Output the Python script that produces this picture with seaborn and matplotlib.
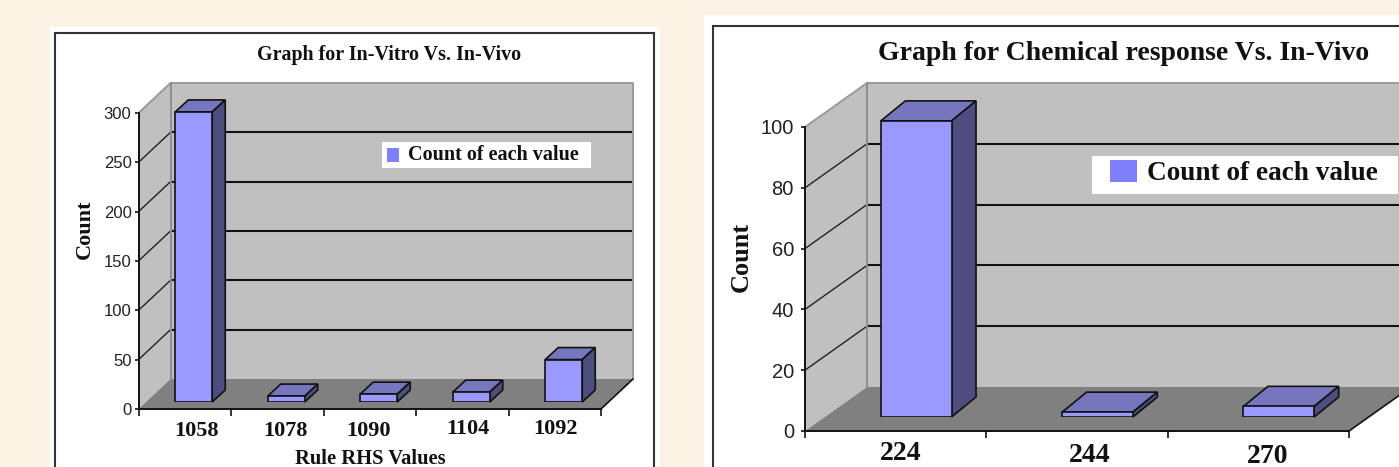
import matplotlib
matplotlib.use("Agg")
import matplotlib.pyplot as plt
from matplotlib.patches import Polygon, Rectangle
import pandas as pd
import seaborn as sns

# Rule counts per chart
vitro_values = ["1058", "1078", "1090", "1104", "1092"]
vitro_counts = [294, 6, 8, 10, 43]
chem_values = ["224", "244", "270"]
chem_counts = [97.4, 1.6, 3.5]
series_name = "Count of each value"

W, H = 1399, 467
PAGE = "#FDF3E4"
WALL = "#C0C0C0"
FLOOR = "#808080"
BAR_FRONT = "#9999FF"
BAR_TOP = "#7676BE"
BAR_SIDE = "#4D4D80"
SWATCH = "#8080FF"
INK = "#111111"
SERIF = "Liberation Serif"
SANS = "Liberation Sans"

sns.set_theme(style="white")
fig = plt.figure(figsize=(W / 100, H / 100), dpi=100, facecolor=PAGE)

# Full-figure pixel canvas for cards, frames, titles and legends
page = fig.add_axes([0, 0, 1, 1], zorder=0)
page.set_xlim(0, W)
page.set_ylim(H, 0)
page.axis("off")
top = fig.add_axes([0, 0, 1, 1], zorder=5)
top.set_xlim(0, W)
top.set_ylim(H, 0)
top.axis("off")


def plane_axes(left, right, y_top, y_zero, zorder):
    return fig.add_axes([left / W, 1 - y_zero / H, (right - left) / W, (y_zero - y_top) / H],
                        zorder=zorder, facecolor="none")


def draw_chart(cfg):
    page.add_patch(Rectangle(cfg["card"][:2], cfg["card"][2], cfg["card"][3], fc="white", ec="none"))
    page.add_patch(Rectangle(cfg["frame"][:2], cfg["frame"][2], cfg["frame"][3], fc="white",
                             ec="#333333", lw=1.5))

    names, counts, ymax, step = cfg["names"], cfg["counts"], cfg["ymax"], cfg["step"]
    n = len(names)
    left, right, y_top, y_zero = cfg["plane"]
    px_x = (right - left) / n
    px_y = (y_zero - y_top) / ymax

    # Front plane: axis, ticks and the 3-D box walls
    ax = plane_axes(left, right, y_top, y_zero, 1)
    ax.set_xlim(-0.5, n - 0.5)
    ax.set_ylim(0, ymax)
    dx = cfg["depth"][0] / px_x
    dy = cfg["depth"][1] / px_y
    x0, x1 = -0.5, n - 0.5
    ax.add_patch(Polygon([(x0, 0), (x0 + dx, dy), (x0 + dx, ymax + dy), (x0, ymax)],
                         fc=WALL, ec="none", clip_on=False, zorder=1))
    ax.add_patch(Polygon([(x0 + dx, dy), (x1 + dx, dy), (x1 + dx, ymax + dy), (x0 + dx, ymax + dy)],
                         fc=WALL, ec="none", clip_on=False, zorder=1))
    ax.add_patch(Polygon([(x0, 0), (x1, 0), (x1 + dx, dy), (x0 + dx, dy)],
                         fc=FLOOR, ec="none", clip_on=False, zorder=2))
    ticks = list(range(0, ymax + 1, step))
    for t in ticks[1:-1]:
        ax.plot([x0, x0 + dx], [t, t + dy], color="#222222", lw=1.0, clip_on=False, zorder=3)
        ax.plot([x0 + dx, x1 + dx], [t + dy, t + dy], color="#111111", lw=1.5, clip_on=False, zorder=3)
    ax.plot([x0, x0 + dx, x1 + dx, x1 + dx], [ymax, ymax + dy, ymax + dy, dy], color="#9A9A9A",
            lw=1.4, clip_on=False, zorder=3)
    ax.plot([x0 + dx, x0 + dx], [dy, ymax + dy], color="#8E8E8E", lw=1.4, clip_on=False, zorder=3)
    ax.plot([x1, x1 + dx], [0, dy], color="#111111", lw=1.2, clip_on=False, zorder=3)

    sns.despine(ax=ax, top=True, right=True)
    for s in ("left", "bottom"):
        ax.spines[s].set_color("#111111")
        ax.spines[s].set_linewidth(1.4)
        ax.spines[s].set_zorder(4)
    ax.set_yticks(ticks)
    ax.set_yticklabels([str(t) for t in ticks], family=SANS, fontsize=cfg["tick_size"], color="#222222")
    ax.set_xticks([i - 0.5 for i in range(n + 1)])
    ax.set_xticklabels([])
    ax.tick_params(axis="y", length=3, width=1.2, color="#111111", left=True, pad=cfg["tick_pad"])
    ax.tick_params(axis="x", length=5, width=1.2, color="#111111", bottom=True)
    ax.set_ylabel("Count", family=SERIF, weight="bold", fontsize=cfg["label_size"], color=INK)
    ax.yaxis.set_label_coords(cfg["ylabel_xy"][0], cfg["ylabel_xy"][1], transform=page.transData)
    ax.set_xlabel(cfg.get("xlabel", ""), family=SERIF, weight="bold", fontsize=cfg["xlabel_size"], color=INK)
    ax.xaxis.set_label_coords(cfg["xlabel_xy"][0], cfg["xlabel_xy"][1], transform=page.transData)
    for i, (name, (ox, oy)) in enumerate(zip(names, cfg["label_offsets"])):
        ax.annotate(name, xy=(i, 0), xytext=(ox * 0.72, -oy * 0.72), textcoords="offset points",
                    ha="center", va="center", family=SERIF, weight="bold",
                    fontsize=cfg["cat_size"], color=INK, annotation_clip=False)

    # Bars sit on a plane pushed back into the box
    sx, sy = cfg["bar_shift"]
    bar_ax = plane_axes(left + sx, right + sx, y_top - sy, y_zero - sy, 2)
    frame = pd.DataFrame({"value": names, "count": counts})
    sns.barplot(data=frame, x="value", y="count", order=names, color=BAR_FRONT, saturation=1,
                width=cfg["bar_width"], edgecolor="#111111", linewidth=1.2, ax=bar_ax, zorder=5)
    bar_ax.set_xlim(-0.5, n - 0.5)
    bar_ax.set_ylim(0, ymax)
    bar_ax.axis("off")
    bdx = cfg["bar_depth"][0] / px_x
    bdy = cfg["bar_depth"][1] / px_y
    for bar in list(bar_ax.patches):
        xa, w, h = bar.get_x(), bar.get_width(), bar.get_height()
        bar_ax.add_patch(Polygon([(xa, h), (xa + w, h), (xa + w + bdx, h + bdy), (xa + bdx, h + bdy)],
                                 fc=BAR_TOP, ec="#111111", lw=1.2, clip_on=False, zorder=4))
        bar_ax.add_patch(Polygon([(xa + w, 0), (xa + w + bdx, bdy), (xa + w + bdx, h + bdy), (xa + w, h)],
                                 fc=BAR_SIDE, ec="#111111", lw=1.2, clip_on=False, zorder=4))

    # Title and legend
    top.text(cfg["title_xy"][0], cfg["title_xy"][1], cfg["title"], ha="center", va="center",
             family=SERIF, weight="bold", fontsize=cfg["title_size"], color=INK)
    bx, by, bw, bh = cfg["legend_box"]
    top.add_patch(Rectangle((bx, by), bw, bh, fc="white", ec="none", clip_on=False))
    sw = cfg["legend_swatch"]
    top.add_patch(Rectangle(sw[:2], sw[2], sw[3], fc=SWATCH, ec="none"))
    top.text(cfg["legend_text_xy"][0], cfg["legend_text_xy"][1], series_name, ha="left", va="center",
             family=SERIF, weight="bold", fontsize=cfg["legend_size"], color=INK)


draw_chart(dict(
    names=vitro_values, counts=vitro_counts, ymax=300, step=50,
    card=(50, 27, 610, 445), frame=(55, 33, 599, 445),
    plane=(138.5, 601, 113, 409), depth=(32, 30), bar_shift=(9, 7),
    bar_width=0.40, bar_depth=(13, 12),
    tick_size=12, tick_pad=2, cat_size=16, label_size=16,
    ylabel_xy=(94.5, 229.5), xlabel_xy=(370, 449), xlabel="Rule RHS Values", xlabel_size=14.8,
    label_offsets=[(12, 22), (8, 22), (-1, 22), (6, 20), (1, 20)],
    title="Graph for In-Vitro Vs. In-Vivo", title_xy=(389, 55), title_size=14.4,
    legend_box=(382, 142, 209, 26), legend_swatch=(387, 148, 12, 14),
    legend_text_xy=(408, 155), legend_size=14.5,
))

draw_chart(dict(
    names=chem_values, counts=chem_counts, ymax=100, step=20,
    card=(704, 15, 720, 470), frame=(713, 26, 720, 470),
    plane=(805, 1349, 127, 431), depth=(62, 44), bar_shift=(20.5, 14),
    bar_width=0.39, bar_depth=(24.5, 20),
    tick_size=14.5, tick_pad=5, cat_size=20, label_size=19,
    ylabel_xy=(753, 256.5), xlabel_xy=(1050, 490), xlabel_size=16,
    label_offsets=[(5, 22), (13, 24), (9, 25.5)],
    title="Graph for Chemical response Vs. In-Vivo", title_xy=(1124, 53), title_size=20,
    legend_box=(1092, 156, 306, 38), legend_swatch=(1110, 160, 27, 22),
    legend_text_xy=(1147, 173), legend_size=19.6,
))

fig.savefig("out.png", dpi=100, facecolor=PAGE)
